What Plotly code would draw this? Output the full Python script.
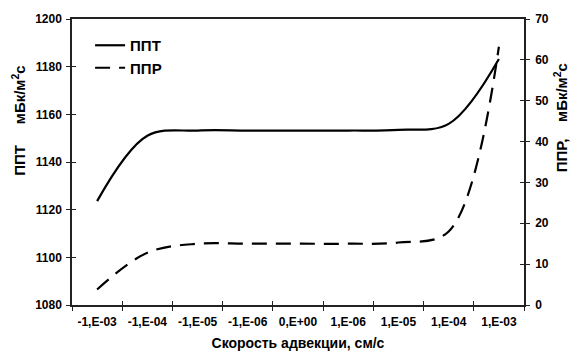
import plotly.graph_objects as go

categories = ["-1,E-03", "-1,E-04", "-1,E-05", "-1,E-06", "0,E+00", "1,E-06", "1,E-05", "1,E-04", "1,E-03"]
ppt = [1123.6, 1151.0, 1153.2, 1153.2, 1153.2, 1153.2, 1153.5, 1156.0, 1183.2]
ppr = [3.8, 12.8, 15.0, 15.0, 15.0, 15.0, 15.3, 18.0, 63.2]

FONT = "Liberation Sans, Arial, sans-serif"
AX = "#222222"
NB = "\u00a0"

fig = go.Figure()
fig.add_trace(go.Scatter(
    x=categories, y=ppt, name="ППТ", mode="lines",
    line=dict(color="black", width=2.2, shape="spline", smoothing=1.0),
    legendgroup="a", yaxis="y"))
fig.add_trace(go.Scatter(
    x=categories, y=ppr, name="ППР", mode="lines",
    line=dict(color="black", width=2.2, shape="spline", smoothing=1.0, dash="15px,9px"),
    legendgroup="b", yaxis="y2"))
# empty helper traces so that inner tick marks (cross ticks) are drawn
fig.add_trace(go.Scatter(x=categories, y=[None] * len(categories), xaxis="x2", yaxis="y3",
                         showlegend=False, hoverinfo="skip", mode="lines"))
fig.add_trace(go.Scatter(x=categories, y=[None] * len(categories), xaxis="x2", yaxis="y4",
                         showlegend=False, hoverinfo="skip", mode="lines"))

tickfont = dict(family=FONT, size=12, color="black", weight="bold")
common = dict(showgrid=False, zeroline=False, tickcolor=AX, tickwidth=1.2, ticklen=4)

fig.update_layout(
    width=571, height=361,
    margin=dict(l=72, r=47, t=15, b=56),
    paper_bgcolor="white", plot_bgcolor="white",
    showlegend=True,
    legend=dict(x=0.04, y=0.965, xanchor="left", yanchor="top",
                font=dict(family=FONT, size=15, color="black", weight="bold"),
                bgcolor="rgba(0,0,0,0)", tracegroupgap=0, itemwidth=30),
    xaxis=dict(type="category", range=[-0.5, 8.5], tickson="boundaries",
               showline=True, linecolor=AX, linewidth=1.5, mirror=True,
               ticks="outside", tickfont=tickfont, ticklabelstandoff=5,
               title=dict(text="Скорость адвекции, см/с", standoff=10,
                          font=dict(family=FONT, size=14, color="black", weight="bold")),
               **common),
    xaxis2=dict(type="category", range=[-0.5, 8.5], tickson="boundaries", overlaying="x",
                anchor="y", side="bottom", ticks="inside", showticklabels=False,
                showline=False, **common),
    yaxis=dict(range=[1080, 1200], dtick=20, showline=True, linecolor=AX, linewidth=1.5,
               ticks="outside", tickfont=tickfont, ticklabelstandoff=2, **common),
    yaxis2=dict(range=[0, 70], dtick=10, overlaying="y", side="right",
                showline=True, linecolor=AX, linewidth=1.5,
                ticks="outside", tickfont=tickfont, ticklabelstandoff=3, **common),
    yaxis3=dict(range=[1080, 1200], dtick=20, overlaying="y", side="left", anchor="x2",
                ticks="inside", showticklabels=False, showline=False, **common),
    yaxis4=dict(range=[0, 70], dtick=10, overlaying="y", side="right", anchor="x2",
                ticks="inside", showticklabels=False, showline=False, **common),
    annotations=[
        dict(text="ППТ" + NB * 5 + "мБк/м<sup>2</sup>с", textangle=-90, xref="paper", yref="paper",
             x=-0.119, y=0.645, xanchor="center", yanchor="middle", showarrow=False,
             font=dict(family=FONT, size=15, color="black", weight="bold")),
        dict(text="ППР," + NB * 4 + "мБк/м<sup>2</sup>с", textangle=-90, xref="paper", yref="paper",
             x=1.081, y=0.655, xanchor="center", yanchor="middle", showarrow=False,
             font=dict(family=FONT, size=15, color="black", weight="bold")),
    ],
)

fig.write_html("out.html")
